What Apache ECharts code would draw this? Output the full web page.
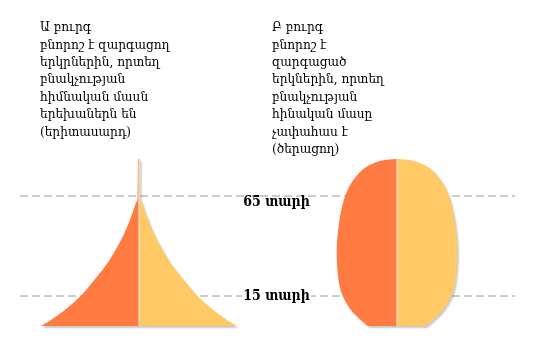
<!DOCTYPE html>
<html><head><meta charset="utf-8">
<script src="https://cdn.jsdelivr.net/npm/echarts@6/dist/echarts.min.js"></script>
<style>html,body{margin:0;padding:0;background:#fff}#c{width:545px;height:361px}</style>
</head><body><div id="c"></div>
<script>
// Pyramid A (young population): age vs half-width (share)
const pyramidAAges = [0, 3, 8, 14.7, 21.3, 29.7, 38, 46.3, 54.7, 61.3, 64.7, 83.5];
const pyramidAHalf = [98, 88, 74, 59, 47.5, 34, 23.5, 14.8, 7.8, 3.4, 1.4, 1.1];
// Pyramid B (ageing population)
const pyramidBAges = [0, 3, 8, 14.7, 21.5, 31.5, 41.5, 54.7, 64.7, 71.3, 78, 81.3, 83, 83.5];
const pyramidBHalf = [29, 36, 46, 54, 58, 60, 60, 57, 52, 46, 35, 24, 12, 0];
// Reference lines
const refAges = [65, 15];
const refLabels = ['65 տարի', '15 տարի'];
// Texts
const textA = ['Ա բուրգ', 'բնորոշ է զարգացող', 'երկրներին, որտեղ', 'բնակչության', 'հիմնական մասն', 'երեխաներն են', '(երիտասարդ)'];
const textB = ['Բ բուրգ', 'բնորոշ է', 'զարգացած', 'երկներին, որտեղ', 'բնակչության', 'հինական մասը', 'չափահաս է', '(ծերացող)'];

const ORANGE = '#FF7B42';
const YELLOW = '#FFC966';
const FONT = '"DejaVu Serif Condensed", "DejaVu Serif", serif';

function halfPath(api, ages, halves, sign) {
  const pts = ages.map((a, i) => api.coord([sign * halves[i], a]));
  const base = api.coord([0, ages[0]]);
  const top = api.coord([0, ages[ages.length - 1]]);
  let d = 'M' + base[0] + ',' + base[1] + ' L' + pts[0][0] + ',' + pts[0][1];
  for (let i = 0; i < pts.length - 1; i++) {
    const p0 = pts[Math.max(i - 1, 0)], p1 = pts[i], p2 = pts[i + 1], p3 = pts[Math.min(i + 2, pts.length - 1)];
    const c1 = [p1[0] + (p2[0] - p0[0]) / 6, p1[1] + (p2[1] - p0[1]) / 6];
    const c2 = [p2[0] - (p3[0] - p1[0]) / 6, p2[1] - (p3[1] - p1[1]) / 6];
    d += ' C' + c1[0] + ',' + c1[1] + ' ' + c2[0] + ',' + c2[1] + ' ' + p2[0] + ',' + p2[1];
  }
  d += ' L' + top[0] + ',' + top[1] + ' Z';
  return d;
}

function pyramidRender(ages, halves) {
  return function (params, api) {
    if (params.dataIndex !== 0) return null;
    const b = api.coord([0, ages[0]]);
    const t = api.coord([0, ages[ages.length - 1]]);
    const shadow = { shadowBlur: 2, shadowColor: 'rgba(0,0,0,0.22)', shadowOffsetX: 1.5, shadowOffsetY: 2 };
    return {
      type: 'group',
      children: [
        { type: 'path', shape: { pathData: halfPath(api, ages, halves, -1) }, style: Object.assign({ fill: ORANGE }, shadow) },
        { type: 'path', shape: { pathData: halfPath(api, ages, halves, 1) }, style: Object.assign({ fill: YELLOW }, shadow) },
        { type: 'line', shape: { x1: b[0], y1: b[1], x2: t[0], y2: t[1] }, style: { stroke: '#EDE4DC', lineWidth: 1.2 } }
      ]
    };
  };
}

const chart = echarts.init(document.getElementById('c'));
const gridCommon = { top: 126, height: 200 };
chart.setOption({
  animation: false,
  grid: [
    Object.assign({ left: 39, width: 200 }, gridCommon),
    Object.assign({ left: 297, width: 200 }, gridCommon),
    Object.assign({ left: 20, right: 30 }, gridCommon)
  ],
  xAxis: [
    { type: 'value', gridIndex: 0, min: -100, max: 100, show: false },
    { type: 'value', gridIndex: 1, min: -100, max: 100, show: false },
    { type: 'value', gridIndex: 2, min: 0, max: 1, show: false }
  ],
  yAxis: [
    { type: 'value', gridIndex: 0, min: 0, max: 100, show: false },
    { type: 'value', gridIndex: 1, min: 0, max: 100, show: false },
    { type: 'value', gridIndex: 2, min: 0, max: 100, show: false }
  ],
  graphic: [
    { type: 'text', left: 40, top: 19, style: { text: textA.join('\n'), font: '13.5px ' + FONT, lineHeight: 17.4, fill: '#000' } },
    { type: 'text', left: 272, top: 19, style: { text: textB.join('\n'), font: '13.5px ' + FONT, lineHeight: 17.4, fill: '#000' } }
  ],
  series: [
    {
      type: 'custom', xAxisIndex: 2, yAxisIndex: 2, z: 1,
      data: refAges.map(a => [0, a]),
      renderItem: function (params, api) {
        const cs = params.coordSys;
        const y = api.coord([0, api.value(1)])[1];
        return { type: 'line', shape: { x1: cs.x, y1: y, x2: cs.x + cs.width, y2: y }, style: { stroke: '#9a9a9a', lineWidth: 1, lineDash: [8, 4] } };
      }
    },
    { type: 'custom', xAxisIndex: 0, yAxisIndex: 0, z: 2, data: [[0, 0]], renderItem: pyramidRender(pyramidAAges, pyramidAHalf) },
    { type: 'custom', xAxisIndex: 1, yAxisIndex: 1, z: 2, data: [[0, 0]], renderItem: pyramidRender(pyramidBAges, pyramidBHalf) },
    {
      type: 'custom', xAxisIndex: 2, yAxisIndex: 2, z: 3,
      data: refAges.map(a => [0, a]),
      renderItem: function (params, api) {
        const cs = params.coordSys;
        const y = api.coord([0, api.value(1)])[1];
        const first = params.dataIndex === 0;
        return { type: 'text', x: cs.x + cs.width / 2 + 9, y: first ? y - 1 : y,
          style: { text: refLabels[params.dataIndex], font: 'bold 14px ' + FONT, fill: '#000', align: 'center', verticalAlign: first ? 'top' : 'middle',
            backgroundColor: first ? null : '#fff', padding: [0, 1] } };
      }
    }
  ]
});
</script></body></html>
